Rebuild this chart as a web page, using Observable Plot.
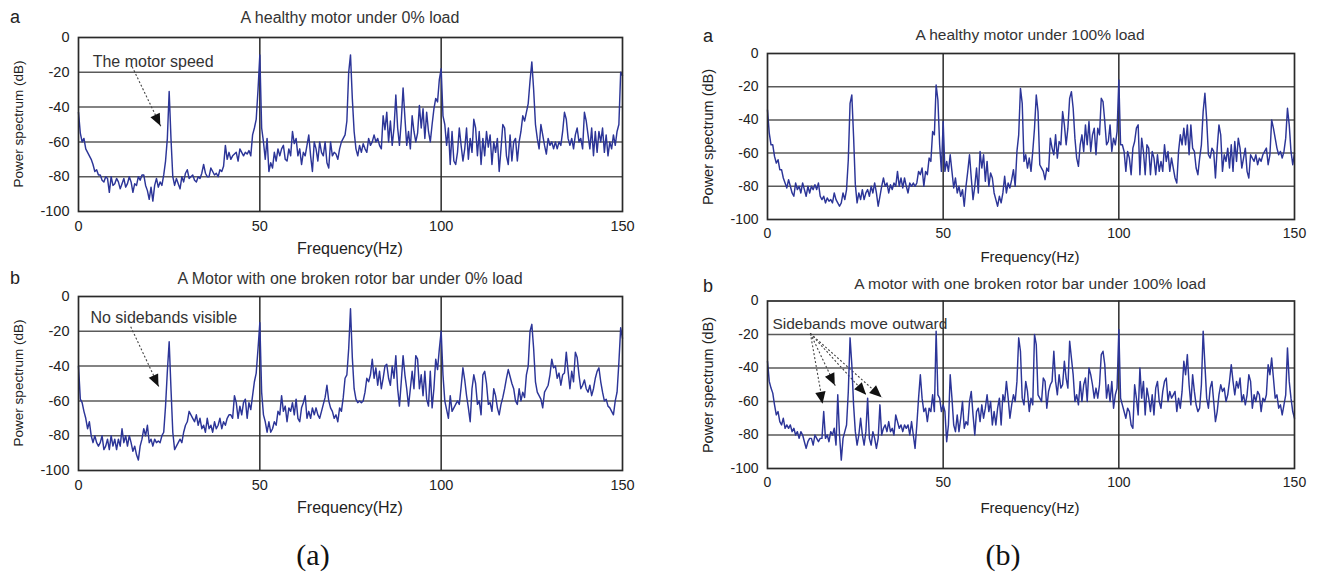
<!DOCTYPE html>
<html><head><meta charset="utf-8">
<script src="https://cdn.jsdelivr.net/npm/d3@7"></script>
<script src="https://cdn.jsdelivr.net/npm/@observablehq/plot@0.6"></script>
<style>
body{margin:0;background:#fff;}
#fig{position:relative;width:1318px;height:580px;overflow:hidden;font-family:"Liberation Sans",Arial,sans-serif;color:#222;background:#fff;}
.t{position:absolute;white-space:nowrap;transform:translate(-50%,-50%);}
.ttl{font-size:16px;color:#333;}
.ttlr{font-size:15.5px;color:#333;}
.lab{font-size:16px;color:#222;}
.labr{font-size:15px;color:#222;}
.ylab{font-size:13.5px;color:#222;transform:translate(-50%,-50%) rotate(-90deg);}
.ylabr{font-size:14.5px;color:#222;transform:translate(-50%,-50%) rotate(-90deg);}
.let{font-size:18px;color:#222;}
.cap{font-family:"Liberation Serif","Times New Roman",serif;font-size:30px;color:#111;}
.pn{position:absolute;}
</style></head>
<body><div id="fig"></div>
<script>
// ---------- data ----------
const freqHz = d3.range(0, 150.5, 0.5);
const healthy0 = [
-43,-55,-60,-58,-64,-66,-68,-70,-73,-77,-76,-79,-79,-82,-83,-80,-81,-89,-80,-85,
-84,-81,-83,-87,-84,-81,-86,-84,-80,-83,-89,-84,-85,-80,-82,-79,-79,-85,-88,-93,
-86,-94,-85,-81,-86,-83,-85,-79,-71,-58,-31,-58,-80,-85,-81,-84,-87,-80,-83,-78,
-76,-81,-80,-79,-82,-83,-80,-81,-78,-73,-78,-80,-80,-75,-77,-79,-78,-80,-76,-77,
-74,-62,-70,-66,-70,-68,-67,-66,-71,-64,-66,-68,-66,-67,-65,-68,-56,-52,-47,-30,
-10,-52,-60,-70,-58,-77,-72,-75,-66,-71,-64,-68,-64,-62,-70,-71,-64,-68,-54,-61,
-58,-68,-64,-73,-66,-68,-62,-56,-68,-77,-60,-64,-71,-60,-66,-68,-60,-72,-75,-60,
-68,-66,-67,-70,-64,-60,-58,-56,-48,-20,-10,-35,-54,-64,-68,-62,-66,-61,-64,-66,
-58,-62,-60,-56,-60,-58,-62,-64,-45,-53,-43,-60,-48,-62,-52,-33,-52,-62,-48,-29,
-46,-62,-54,-64,-45,-54,-60,-55,-39,-52,-41,-58,-43,-54,-60,-50,-41,-35,-37,-24,
-18,-45,-50,-62,-52,-73,-54,-71,-73,-66,-52,-62,-71,-64,-52,-70,-58,-66,-47,-52,
-68,-54,-73,-58,-68,-54,-63,-56,-73,-60,-66,-58,-77,-64,-50,-52,-68,-73,-56,-71,
-60,-58,-71,-60,-54,-45,-48,-43,-38,-25,-14,-30,-50,-58,-64,-50,-56,-62,-67,-58,
-62,-60,-64,-60,-64,-60,-62,-54,-43,-47,-58,-62,-58,-64,-56,-52,-60,-58,-64,-43,
-48,-56,-64,-52,-68,-54,-66,-54,-60,-52,-66,-56,-68,-60,-64,-56,-62,-54,-50,-20,
-22];
const broken0 = [
-40,-59,-61,-66,-70,-76,-72,-80,-84,-80,-84,-86,-84,-80,-88,-86,-82,-88,-80,-86,
-82,-88,-82,-86,-76,-84,-80,-86,-80,-84,-89,-86,-91,-94,-86,-82,-76,-80,-74,-84,
-82,-86,-82,-84,-83,-84,-80,-78,-63,-43,-26,-53,-78,-88,-86,-84,-82,-84,-78,-74,
-72,-66,-68,-70,-72,-68,-74,-70,-76,-74,-78,-70,-76,-74,-78,-72,-76,-74,-70,-76,
-72,-74,-70,-68,-68,-70,-57,-61,-70,-63,-68,-61,-59,-70,-61,-65,-57,-49,-44,-30,
-15,-55,-68,-72,-78,-72,-78,-76,-72,-74,-66,-68,-57,-66,-63,-72,-64,-66,-61,-68,
-59,-70,-72,-64,-61,-57,-70,-66,-70,-64,-68,-64,-68,-70,-66,-62,-58,-51,-60,-64,
-66,-70,-68,-72,-64,-66,-58,-47,-45,-30,-7,-35,-53,-59,-61,-60,-61,-60,-55,-47,
-49,-45,-36,-47,-41,-51,-43,-53,-47,-40,-39,-47,-51,-40,-47,-34,-53,-63,-49,-34,
-45,-53,-63,-53,-43,-53,-34,-36,-53,-45,-57,-43,-59,-63,-43,-64,-53,-36,-42,-30,
-20,-45,-60,-65,-70,-57,-66,-64,-62,-60,-62,-52,-41,-48,-57,-64,-72,-53,-45,-50,
-62,-60,-68,-45,-43,-50,-62,-61,-66,-53,-57,-64,-68,-62,-58,-53,-47,-42,-46,-50,
-53,-60,-62,-53,-60,-55,-58,-45,-40,-20,-16,-30,-49,-55,-57,-59,-64,-55,-53,-51,
-45,-36,-41,-40,-47,-44,-51,-45,-44,-32,-43,-53,-43,-49,-32,-35,-45,-53,-51,-48,
-53,-55,-51,-57,-53,-47,-43,-41,-49,-55,-60,-59,-63,-64,-66,-68,-60,-55,-38,-18,
-24];
const healthy100 = [
-34,-48,-55,-55,-62,-66,-64,-70,-70,-75,-78,-81,-76,-80,-84,-86,-78,-82,-80,-84,
-78,-82,-86,-80,-84,-80,-82,-79,-82,-78,-86,-88,-86,-90,-87,-89,-88,-90,-84,-88,
-90,-92,-90,-84,-88,-82,-64,-30,-25,-50,-79,-90,-84,-88,-82,-88,-84,-82,-86,-80,
-84,-78,-84,-92,-86,-80,-75,-80,-78,-84,-79,-82,-78,-80,-71,-80,-75,-81,-75,-80,
-84,-78,-80,-78,-80,-78,-71,-73,-69,-80,-71,-73,-63,-65,-47,-49,-19,-28,-55,-71,
-41,-71,-65,-71,-61,-71,-81,-75,-84,-80,-86,-82,-92,-80,-71,-61,-75,-88,-80,-69,
-84,-59,-69,-61,-77,-65,-80,-72,-75,-84,-88,-92,-86,-90,-84,-74,-84,-78,-81,-76,
-70,-80,-59,-49,-21,-30,-65,-61,-69,-63,-71,-59,-45,-25,-35,-67,-69,-71,-76,-69,
-71,-51,-57,-61,-49,-63,-53,-55,-35,-43,-55,-45,-27,-23,-33,-51,-63,-68,-55,-49,
-59,-43,-55,-41,-59,-49,-45,-61,-45,-49,-27,-29,-41,-55,-53,-43,-59,-51,-55,-47,
-16,-55,-55,-59,-71,-59,-63,-73,-57,-53,-45,-43,-73,-51,-59,-73,-55,-57,-73,-59,
-63,-73,-61,-71,-65,-71,-55,-65,-59,-71,-63,-69,-75,-78,-59,-49,-55,-45,-55,-43,
-61,-43,-57,-59,-69,-73,-63,-55,-35,-24,-40,-61,-63,-57,-59,-75,-57,-43,-49,-71,
-61,-65,-57,-69,-55,-71,-53,-65,-51,-57,-69,-63,-57,-71,-75,-61,-63,-65,-61,-67,
-63,-65,-61,-59,-57,-67,-61,-40,-45,-51,-57,-61,-59,-63,-59,-51,-33,-43,-59,-67,
-60];
const broken100 = [
-36,-48,-52,-55,-62,-68,-66,-72,-74,-70,-76,-74,-76,-74,-78,-76,-80,-78,-82,-78,
-80,-84,-88,-84,-82,-82,-86,-80,-82,-84,-82,-82,-66,-82,-80,-84,-78,-80,-76,-86,
-56,-80,-95,-82,-78,-74,-54,-22,-38,-62,-78,-86,-80,-70,-80,-86,-78,-58,-82,-86,
-78,-82,-88,-82,-62,-80,-76,-74,-78,-72,-78,-76,-80,-68,-72,-76,-74,-78,-74,-76,
-74,-80,-72,-80,-88,-74,-58,-44,-58,-66,-64,-72,-64,-66,-56,-66,-18,-56,-58,-66,
-62,-66,-84,-74,-44,-58,-74,-78,-68,-78,-70,-60,-76,-72,-74,-60,-54,-68,-80,-66,
-64,-72,-62,-70,-64,-56,-66,-60,-74,-66,-74,-64,-58,-74,-56,-60,-48,-58,-70,-62,
-56,-60,-48,-22,-30,-58,-62,-48,-54,-66,-58,-62,-20,-26,-56,-58,-60,-46,-48,-64,
-54,-50,-48,-30,-48,-56,-44,-52,-50,-36,-46,-52,-24,-34,-44,-60,-56,-62,-48,-60,
-50,-46,-60,-40,-44,-50,-58,-52,-58,-50,-32,-30,-38,-58,-50,-60,-48,-64,-56,-52,
-17,-58,-62,-66,-70,-64,-66,-74,-76,-50,-58,-68,-40,-58,-48,-68,-52,-58,-66,-56,
-68,-52,-48,-60,-64,-54,-48,-46,-60,-54,-58,-56,-54,-66,-58,-64,-54,-36,-44,-32,
-50,-62,-44,-54,-62,-66,-64,-50,-18,-38,-58,-64,-52,-48,-60,-72,-66,-56,-50,-54,
-52,-60,-56,-48,-38,-48,-56,-48,-52,-46,-60,-56,-62,-56,-44,-48,-64,-56,-60,-54,
-56,-66,-58,-60,-56,-38,-44,-34,-46,-58,-56,-64,-62,-68,-62,-56,-28,-48,-58,-66,
-70];
const xTicks = [0, 50, 100, 150];
const yTicks = [0, -20, -40, -60, -80, -100];
const gridDb = [-20, -40, -60, -80];
const gridHz = [50, 100];
const titles = ["A healthy motor under 0% load", "A Motor with one broken rotor bar under 0% load",
                "A healthy motor under 100% load", "A motor with one broken rotor bar under 100% load"];
const panelLetters = ["a", "b", "a", "b"];
const captions = ["(a)", "(b)"];
const xLabel = "Frequency(Hz)";
const yLabel = "Power spectrum (dB)";
const noteText = ["The motor speed", "No sidebands visible", "Sidebands move outward"];
const noteHz = [3.9, 3.3, 1.4];
const noteDb = [-13.8, -12.1, -14.0];
// arrows: [fromHz, fromDb, toHz, toDb]
const arrowsTL = [[14.8, -16.8, 22.7, -51]];
const arrowsBL = [[14.4, -17.4, 22.2, -52]];
const arrowsBR = [[12.2, -19.4, 15.8, -61.7], [12.2, -19.4, 19.3, -50.6], [12.2, -19.4, 28.2, -56.2], [12.2, -19.4, 32.6, -57.7]];

// ---------- drawing ----------
const fig = document.getElementById("fig");
function addText(cls, txt, x, y) {
  const d = document.createElement("div");
  d.className = "t " + cls; d.textContent = txt;
  d.style.left = x + "px"; d.style.top = y + "px";
  fig.appendChild(d);
}

function panel(values, box, notes, arrows, fs, noteFs) {
  const data = freqHz.map((f, i) => ({f, db: values[i]}));
  const heads = (index, scales) => {
    const g = d3.create("svg:g");
    for (const a of arrows) {
      const x1 = scales.x(a[0]), y1 = scales.y(a[1]), x2 = scales.x(a[2]), y2 = scales.y(a[3]);
      const ang = Math.atan2(y2 - y1, x2 - x1), L = 12, W = 5.2;
      const bx = x2 - L * Math.cos(ang), by = y2 - L * Math.sin(ang);
      const px = -Math.sin(ang) * W, py = Math.cos(ang) * W;
      g.append("path").attr("d", `M${x2},${y2}L${bx + px},${by + py}L${bx - px},${by - py}Z`).attr("fill", "#111");
    }
    return g.node();
  };
  const p = Plot.plot({
    width: box.w, height: box.h,
    marginLeft: box.x0 - box.left, marginRight: box.left + box.w - box.x1,
    marginTop: box.y0 - box.top, marginBottom: box.top + box.h - box.y1,
    x: {domain: [0, 150]}, y: {domain: [-100, 0]},
    style: {background: "transparent", fontFamily: "'Liberation Sans', Arial, sans-serif", fontSize: fs + "px", color: "#222", overflow: "visible"},
    marks: [
      Plot.ruleY(gridDb, {stroke: "#5a5a5a", strokeWidth: 1.5}),
      Plot.ruleX(gridHz, {stroke: "#2a2a2a", strokeWidth: 1.5}),
      Plot.text(notes, {x: "x", y: "y", text: "t", textAnchor: "start", fontSize: noteFs, fill: "#333"}),
      Plot.link(arrows, {x1: d => d[0], y1: d => d[1], x2: d => d[2], y2: d => d[3], stroke: "#444", strokeWidth: 1.1, strokeDasharray: "2,2"}),
      heads,
      Plot.line(data, {x: "f", y: "db", stroke: "#2c3598", strokeWidth: 1.45}),
      Plot.frame({stroke: "#2a2a2a", strokeWidth: 1.7}),
      Plot.axisX({ticks: xTicks, tickSize: 0, tickPadding: 9, fontSize: fs, tickFormat: d => String(d), label: null}),
      Plot.axisY({ticks: yTicks, tickSize: 0, tickPadding: 9, fontSize: fs, tickFormat: d => String(d), label: null})
    ]
  });
  p.classList.add("pn");
  p.style.left = box.left + "px"; p.style.top = box.top + "px";
  fig.appendChild(p);
}

const boxes = [
  {left: 0, top: 0, w: 640, h: 262, x0: 78, x1: 622, y0: 37, y1: 211},
  {left: 0, top: 262, w: 640, h: 258, x0: 78, x1: 622, y0: 296, y1: 470},
  {left: 690, top: 0, w: 628, h: 270, x0: 767, x1: 1294, y0: 53, y1: 219},
  {left: 690, top: 270, w: 628, h: 250, x0: 767, x1: 1294, y0: 300.5, y1: 468}
];
const note = i => [{x: noteHz[i], y: noteDb[i], t: noteText[i]}];
panel(healthy0, boxes[0], note(0), arrowsTL, 14.5, 16);
panel(broken0, boxes[1], note(1), arrowsBL, 14.5, 16);
panel(healthy100, boxes[2], [], [], 14, 15.5);
panel(broken100, boxes[3], note(2), arrowsBR, 14, 15.5);

// titles, letters, axis labels
const titlePos = [[350, 18], [350, 279], [1030, 35], [1030, 284]];
const letterPos = [[15, 17], [15, 278], [708, 36], [708, 286]];
const xlabPos = [[350, 249], [350, 508], [1030, 256], [1030, 507]];
const ylabPos = [[18, 124], [18, 383], [708, 137], [708, 385]];
for (let i = 0; i < 4; i++) {
  const r = i >= 2 ? "r" : "";
  addText("ttl" + r, titles[i], titlePos[i][0], titlePos[i][1]);
  addText("let", panelLetters[i], letterPos[i][0], letterPos[i][1]);
  addText("lab" + r, xLabel, xlabPos[i][0], xlabPos[i][1]);
  addText("ylab" + r, yLabel, ylabPos[i][0], ylabPos[i][1]);
}
addText("cap", captions[0], 313, 555);
addText("cap", captions[1], 1003, 555);
</script></body></html>
